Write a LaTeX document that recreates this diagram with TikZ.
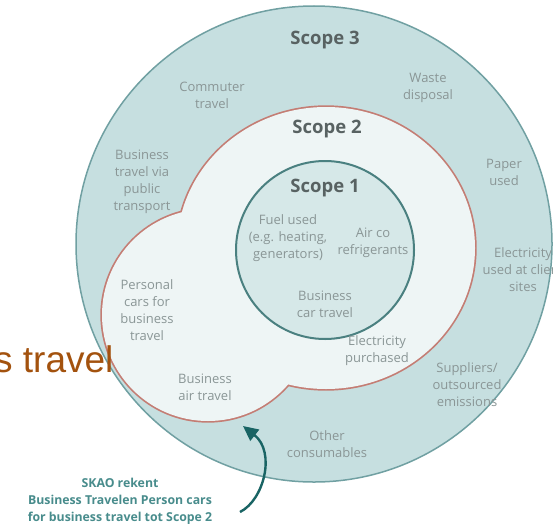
\documentclass[tikz,border=0pt]{standalone}
\usepackage{fontspec}
\setmainfont{Open Sans}
\newfontfamily\arialf{Liberation Sans}
\usetikzlibrary{arrows.meta}
\definecolor{outerfill}{RGB}{198,223,224}
\definecolor{outerline}{RGB}{112,160,162}
\definecolor{midfill}{RGB}{238,245,245}
\definecolor{midline}{RGB}{196,125,116}
\definecolor{innerfill}{RGB}{214,232,232}
\definecolor{innerline}{RGB}{74,128,128}
\definecolor{lblc}{RGB}{138,150,150}
\definecolor{ttlc}{RGB}{88,98,98}
\definecolor{skaoc}{RGB}{72,140,140}
\definecolor{arrowc}{RGB}{25,100,100}
\definecolor{orangetxt}{RGB}{163,82,14}
\begin{document}
\begin{tikzpicture}[x=1pt,y=-1pt,
  lab/.style={align=center,text=lblc,font=\fontsize{13}{17}\selectfont,inner sep=0pt},
  scopettl/.style={text=ttlc,font=\fontsize{18.5}{22}\selectfont\bfseries,inner sep=0pt},
  skaonote/.style={align=center,text=skaoc,font=\fontsize{12.3}{17}\selectfont\bfseries,inner sep=0pt},
  connector/.style={draw=arrowc,line width=2.4pt,-{Triangle[length=15pt,width=14pt]}}
]
\clip (0,0) rectangle (553,527);
\fill[white] (0,0) rectangle (553,527);
% Scope 3
\path[fill=outerfill,draw=outerline,line width=1.5pt] (314,244) circle[radius=238pt];
% Scope 2 (union of ellipse and lobe)
\path[draw=midline,line width=3.4pt] (326,248) ellipse[x radius=149pt,y radius=141pt];
\path[draw=midline,line width=3.4pt] (208,315) circle[radius=106pt];
\path[fill=midfill] (326,248) ellipse[x radius=149pt,y radius=141pt];
\path[fill=midfill] (208,315) circle[radius=106pt];
% Scope 1
\path[fill=innerfill,draw=innerline,line width=2pt] (325,250) circle[radius=89pt];

% titles
\node[scopettl] (s3) at (325,40) {Scope 3};
\node[scopettl] (s2) at (327,129) {Scope 2};
\node[scopettl] (s1) at (325,188) {Scope 1};

% labels
\node[lab] (commuter) at (212,95) {Commuter\\travel};
\node[lab] (waste) at (428,88) {Waste\\disposal};
\node[lab] (bpublic) at (142,182) {Business\\travel via\\public\\transport};
\node[lab] (paper) at (504,172) {Paper\\used};
\node[lab] (fuel) at (288,238) {Fuel used\\(e.g. heating,\\generators)};
\node[lab] (airco) at (373,243) {Air co\\refrigerants};
\node[lab] (elclient) at (523,270) {Electricity\\used at client\\sites};
\node[lab] (personal) at (147,310) {Personal\\cars for\\business\\travel};
\node[lab] (bcar) at (325,304) {Business\\car travel};
\node[lab] (elpur) at (377,351) {Electricity\\purchased};
\node[lab] (bair) at (205,387) {Business\\air travel};
\node[lab] (suppliers) at (467,385) {Suppliers/\\outsourced\\emissions};
\node[lab] (other) at (327,444) {Other\\consumables};

% note and arrow
\node[skaonote] (note) at (120,501) {SKAO rekent\\Business Travelen Person cars\\for business travel tot Scope 2};
\coordinate (tail) at (240,512);
\coordinate (tip) at (243,426);
\draw[connector] (tail) .. controls (264,500) and (276,452) .. (tip);

% background slide text fragment
\node[anchor=base west,inner sep=0pt,text=orangetxt,font=\arialf\fontsize{37}{40}\selectfont] (frag) at (-6,372) {s travel};
\end{tikzpicture}
\end{document}
